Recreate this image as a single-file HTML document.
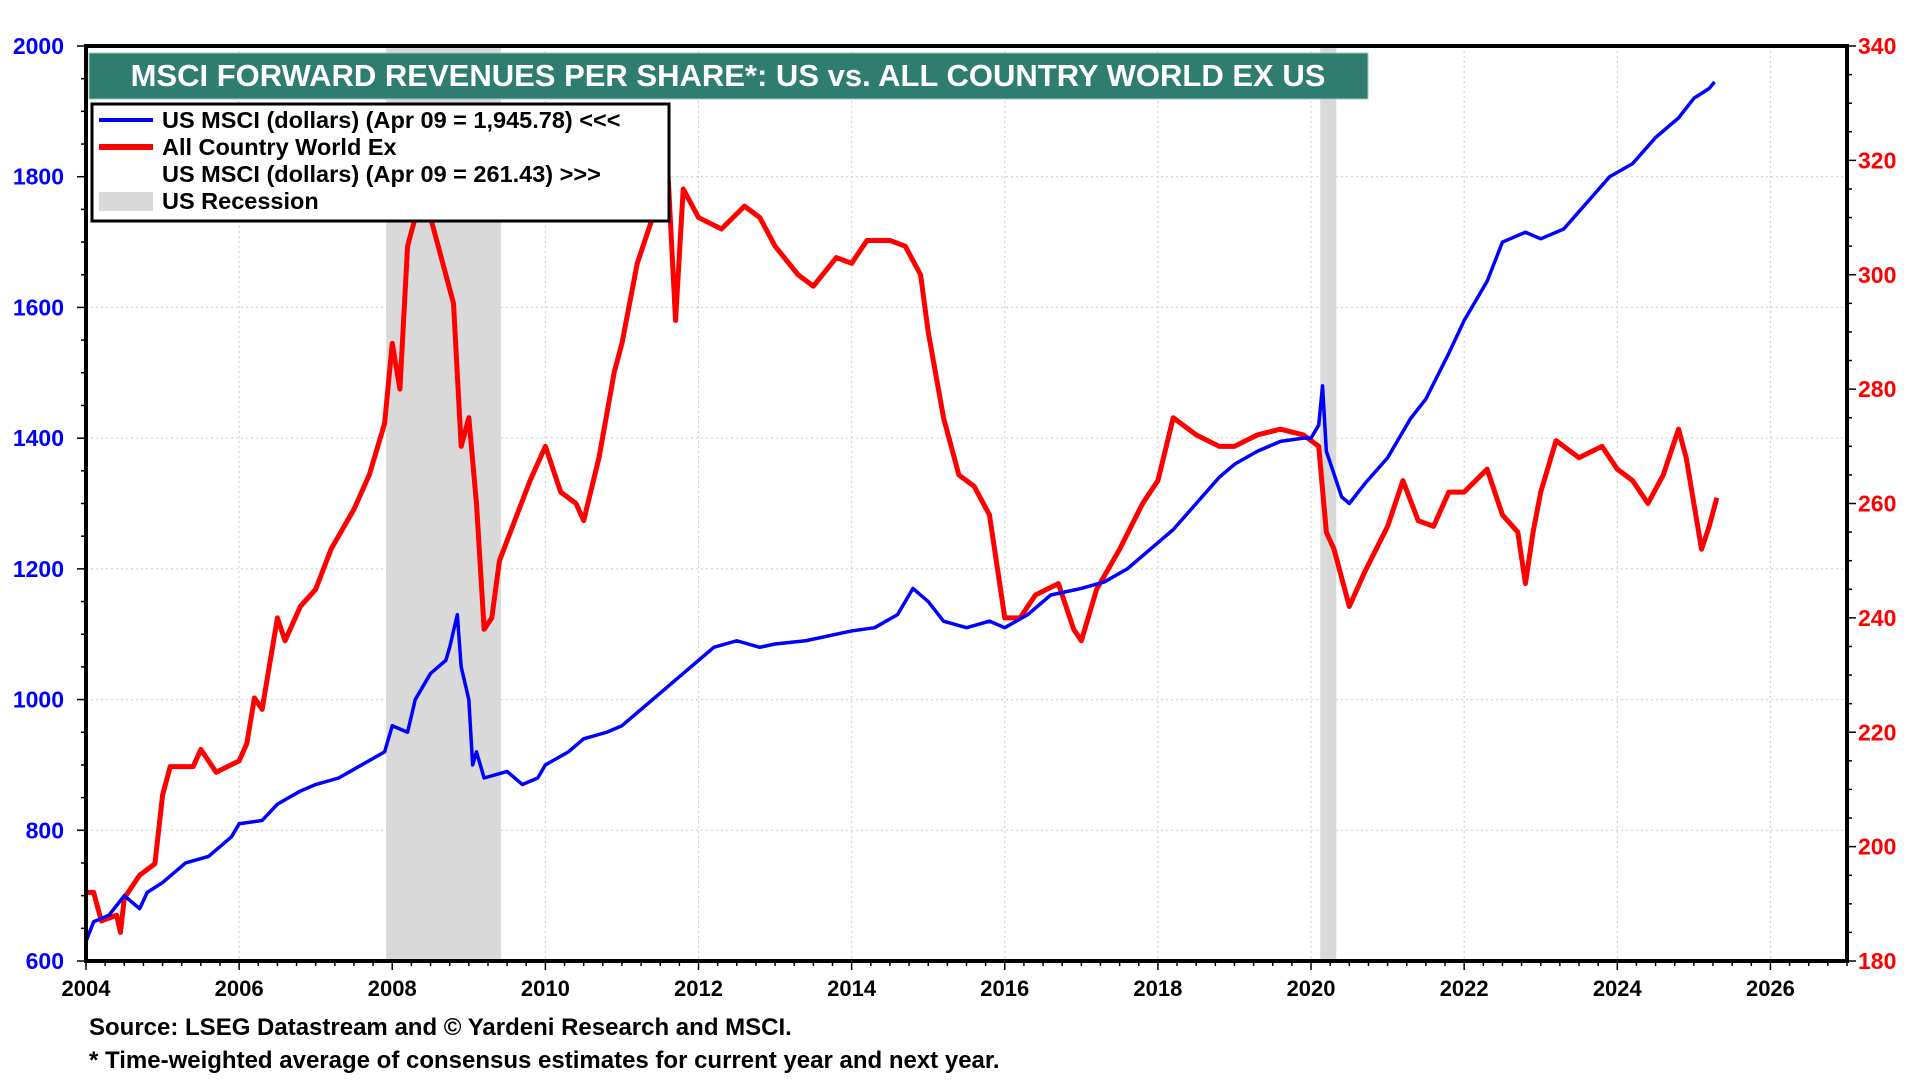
<!DOCTYPE html>
<html><head><meta charset="utf-8"><style>
html,body{margin:0;padding:0;background:#fff;width:1920px;height:1080px;overflow:hidden}
svg{display:block}
text{font-family:"Liberation Sans",Arial,sans-serif;font-weight:bold}
</style></head><body>
<svg id="chart" width="1920" height="1080" xmlns="http://www.w3.org/2000/svg">
<g id="grid"></g>
<g id="rec"></g>
<g id="series"></g>
<rect x="86" y="46" width="1761" height="915" fill="none" stroke="#000" stroke-width="4"/>
<g id="axes"></g>
<rect x="89" y="53" width="1279" height="46" fill="#2e7d6e" stroke="#9fc7bd" stroke-width="1"/>
<text x="728" y="86" text-anchor="middle" fill="#fff" font-size="31">MSCI FORWARD REVENUES PER SHARE*: US vs. ALL COUNTRY WORLD EX US</text>
<g>
<rect x="92" y="104" width="577" height="117" fill="#fff" stroke="#000" stroke-width="3"/>
<line x1="99" y1="120" x2="153" y2="120" stroke="#0000ff" stroke-width="4"/>
<text x="162" y="128" font-size="23.5" fill="#000">US MSCI (dollars) (Apr 09 = 1,945.78) &lt;&lt;&lt;</text>
<line x1="99" y1="147" x2="153" y2="147" stroke="#ff0000" stroke-width="6"/>
<text x="162" y="155" font-size="23.5" fill="#000">All Country World Ex</text>
<text x="162" y="182" font-size="23.5" fill="#000">US MSCI (dollars) (Apr 09 = 261.43) &gt;&gt;&gt;</text>
<rect x="99" y="192" width="54" height="19" fill="#d9d9d9"/>
<text x="162" y="209" font-size="23.5" fill="#000">US Recession</text>
</g>
<text x="89" y="1035" font-size="24" fill="#000">Source: LSEG Datastream and © Yardeni Research and MSCI.</text>
<text x="89" y="1068" font-size="24" fill="#000">* Time-weighted average of consensus estimates for current year and next year.</text>
</svg>
<script>
const xTicks=[2004,2006,2008,2010,2012,2014,2016,2018,2020,2022,2024,2026];
const leftTicks=[600,800,1000,1200,1400,1600,1800,2000];
const rightTicks=[180,200,220,240,260,280,300,320,340];
const recessions=[[2007.92,2009.42],[2020.12,2020.33]];
const usDates=[2004.0,2004.1,2004.3,2004.5,2004.7,2004.8,2005.0,2005.3,2005.6,2005.9,2006.0,2006.3,2006.5,2006.8,2007.0,2007.3,2007.6,2007.9,2008.0,2008.2,2008.3,2008.5,2008.7,2008.75,2008.85,2008.9,2009.0,2009.05,2009.1,2009.2,2009.5,2009.7,2009.9,2010.0,2010.3,2010.5,2010.8,2011.0,2011.2,2011.5,2011.8,2012.0,2012.2,2012.5,2012.8,2013.0,2013.4,2013.8,2014.0,2014.3,2014.6,2014.8,2015.0,2015.2,2015.5,2015.8,2016.0,2016.3,2016.6,2017.0,2017.3,2017.6,2018.0,2018.2,2018.5,2018.8,2019.0,2019.3,2019.6,2019.9,2020.0,2020.1,2020.15,2020.2,2020.4,2020.5,2020.7,2021.0,2021.3,2021.5,2021.8,2022.0,2022.3,2022.5,2022.8,2023.0,2023.3,2023.6,2023.9,2024.2,2024.5,2024.8,2025.0,2025.2,2025.27];
const usValues=[630,660,670,700,680,705,720,750,760,790,810,815,840,860,870,880,900,920,960,950,1000,1040,1060,1080,1130,1050,1000,900,920,880,890,870,880,900,920,940,950,960,980,1010,1040,1060,1080,1090,1080,1085,1090,1100,1105,1110,1130,1170,1150,1120,1110,1120,1110,1130,1160,1170,1180,1200,1240,1260,1300,1340,1360,1380,1395,1400,1400,1420,1480,1380,1310,1300,1330,1370,1430,1460,1530,1580,1640,1700,1715,1705,1720,1760,1800,1820,1860,1890,1920,1935,1945];
const acDates=[2004.0,2004.1,2004.2,2004.4,2004.45,2004.5,2004.7,2004.9,2005.0,2005.1,2005.4,2005.5,2005.7,2006.0,2006.1,2006.2,2006.3,2006.4,2006.5,2006.6,2006.8,2007.0,2007.2,2007.5,2007.7,2007.9,2008.0,2008.1,2008.2,2008.4,2008.6,2008.8,2008.9,2009.0,2009.1,2009.2,2009.3,2009.4,2009.6,2009.8,2010.0,2010.2,2010.4,2010.5,2010.7,2010.9,2011.0,2011.2,2011.4,2011.6,2011.7,2011.8,2012.0,2012.3,2012.6,2012.8,2013.0,2013.3,2013.5,2013.8,2014.0,2014.2,2014.5,2014.7,2014.9,2015.0,2015.2,2015.4,2015.6,2015.8,2016.0,2016.2,2016.4,2016.7,2016.9,2017.0,2017.2,2017.5,2017.8,2018.0,2018.2,2018.5,2018.8,2019.0,2019.3,2019.6,2019.9,2020.1,2020.2,2020.3,2020.5,2020.7,2021.0,2021.2,2021.4,2021.6,2021.8,2022.0,2022.3,2022.5,2022.7,2022.8,2022.9,2023.0,2023.2,2023.5,2023.8,2024.0,2024.2,2024.4,2024.6,2024.8,2024.9,2025.0,2025.1,2025.2,2025.3];
const acValues=[192,192,187,188,185,191,195,197,209,214,214,217,213,215,218,226,224,232,240,236,242,245,252,259,265,274,288,280,305,315,305,295,270,275,260,238,240,250,257,264,270,262,260,257,268,283,288,302,310,318,292,315,310,308,312,310,305,300,298,303,302,306,306,305,300,290,275,265,263,258,240,240,244,246,238,236,245,252,260,264,275,272,270,270,272,273,272,270,255,252,242,248,256,264,257,256,262,262,266,258,255,246,255,262,271,268,270,266,264,260,265,273,268,260,252,256,261];
const NS='http://www.w3.org/2000/svg';
const L=86,R=1847,T=46,B=961;
const X=v=>L+(v-2004)/(2027-2004)*(R-L);
const YL=v=>B-(v-600)/(2000-600)*(B-T);
const YR=v=>B-(v-180)/(340-180)*(B-T);
function mk(tag,attrs,parent){const e=document.createElementNS(NS,tag);for(const k in attrs)e.setAttribute(k,attrs[k]);parent.appendChild(e);return e;}
const grid=document.getElementById('grid'),axes=document.getElementById('axes'),rec=document.getElementById('rec'),ser=document.getElementById('series');
xTicks.forEach(t=>{if(t>2004){const g=mk('line',{x1:X(t),x2:X(t),y1:T,y2:B,stroke:'#ccc','stroke-width':1,'stroke-dasharray':'2,3'},grid);

}
const tx=mk('text',{x:X(t),y:996,'text-anchor':'middle','font-size':22,fill:'#000'},axes);tx.textContent=t;

});
for(let m=2004;m<=2027;m+=0.25){const tk=mk('line',{x1:X(m),x2:X(m),y1:B,y2:B+(Number.isInteger(m)&&m%2==0?9:5),stroke:'#000','stroke-width':1.5},axes);

}
leftTicks.forEach(t=>{if(t>600&&t<2000){const g=mk('line',{x1:L,x2:R,y1:YL(t),y2:YL(t),stroke:'#ccc','stroke-width':1,'stroke-dasharray':'2,3'},grid);

}
const tx=mk('text',{x:64,y:YL(t)+8,'text-anchor':'end','font-size':23,fill:'#0000ff'},axes);tx.textContent=t;

});
for(let v=600;v<=2000;v+=50){const tk=mk('line',{x1:L-(v%200==0?9:5),x2:L,y1:YL(v),y2:YL(v),stroke:'#000','stroke-width':1.5},axes);

}
rightTicks.forEach(t=>{const tx=mk('text',{x:1858,y:YR(t)+8,'font-size':23,fill:'#ff0000'},axes);tx.textContent=t;

});
for(let v=180;v<=340;v+=5){const tk=mk('line',{x1:R,x2:R+(v%20==0?9:5),y1:YR(v),y2:YR(v),stroke:'#000','stroke-width':1.5},axes);

}
recessions.forEach(r=>{const e=mk('rect',{x:X(r[0]),y:T,width:X(r[1])-X(r[0]),height:B-T,fill:'#d9d9d9'},rec);

});
const ac=mk('polyline',{points:acDates.map((d,i)=>X(d)+','+YR(acValues[i])).join(' '),fill:'none',stroke:'#ff0000','stroke-width':5,'stroke-linejoin':'round'},ser);


const us=mk('polyline',{points:usDates.map((d,i)=>X(d)+','+YL(usValues[i])).join(' '),fill:'none',stroke:'#0000ff','stroke-width':3.5,'stroke-linejoin':'round'},ser);


</script>
</body></html>
